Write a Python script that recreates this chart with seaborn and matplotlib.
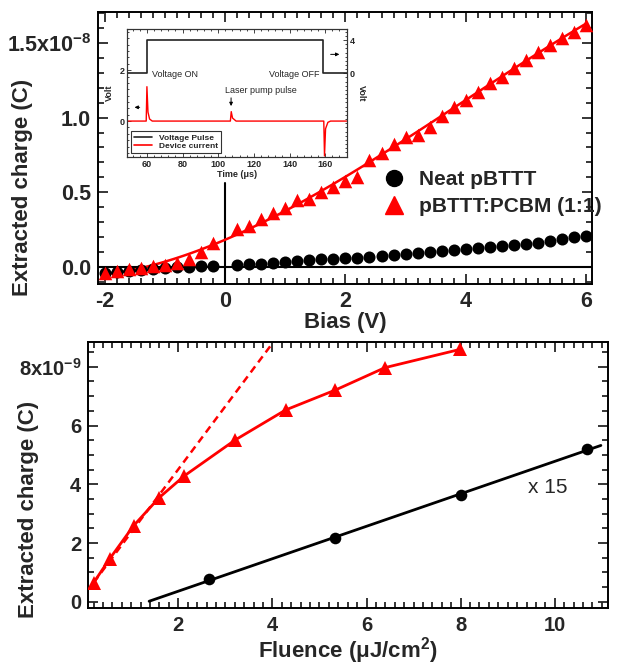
import numpy as np
import pandas as pd
import matplotlib
matplotlib.use("Agg")
import matplotlib.pyplot as plt
import seaborn as sns
from matplotlib.ticker import MultipleLocator, FixedLocator, FixedFormatter
from matplotlib.lines import Line2D

# ---------------- data: top panel (charge in units of 1e-8 C) ----------------
bias = [-2.0, -1.8, -1.6, -1.4, -1.2, -1.0, -0.8, -0.6, -0.4, -0.2,
        0.2, 0.4, 0.6, 0.8, 1.0, 1.2, 1.4, 1.6, 1.8, 2.0,
        2.2, 2.4, 2.6, 2.8, 3.0, 3.2, 3.4, 3.6, 3.8, 4.0,
        4.2, 4.4, 4.6, 4.8, 5.0, 5.2, 5.4, 5.6, 5.8, 6.0]
neat_charge = [-0.045, -0.038, -0.031, -0.024, -0.017, -0.010, -0.004, 0.000, 0.001, 0.002,
               0.011, 0.016, 0.020, 0.025, 0.030, 0.038, 0.044, 0.049, 0.052, 0.056,
               0.060, 0.067, 0.072, 0.076, 0.085, 0.090, 0.096, 0.103, 0.111, 0.116,
               0.123, 0.130, 0.140, 0.145, 0.152, 0.161, 0.173, 0.183, 0.196, 0.205]
blend_charge = [-0.045, -0.030, -0.016, -0.006, 0.004, 0.012, 0.025, 0.050, 0.095, 0.157,
                0.250, 0.273, 0.318, 0.358, 0.392, 0.447, 0.454, 0.503, 0.537, 0.577,
                0.600, 0.716, 0.760, 0.823, 0.868, 0.884, 0.935, 1.010, 1.070, 1.120,
                1.175, 1.230, 1.275, 1.330, 1.387, 1.443, 1.488, 1.532, 1.577, 1.622]
top_yticks = [0.0, 0.5, 1.0, 1.5]
top_yticklabels = ["0.0", "0.5", "1.0", r"1.5x10$^{\mathbf{-8}}$"]
legend_labels = ["Neat pBTTT", "pBTTT:PCBM (1:1)"]

# ---------------- data: inset ----------------
pulse_time = [49, 60, 60, 158.5, 158.5, 172]
pulse_volt = [0, 0, 4, 4, 0, 0]
current_time = [49, 59.6, 60.0, 60.6, 61.5, 63, 106.8, 107.3, 108.0, 110,
                159.2, 159.6, 160.2, 161.5, 163, 172]
current_val = [0, 0, 1.35, 0.35, 0.08, 0, 0, 0.37, 0.12, 0,
               0, -1.37, -0.30, -0.05, 0, 0]
inset_legend = ["Voltage Pulse", "Device current"]
inset_right_ticks = [0, 4]

# ---------------- data: bottom panel (charge in units of 1e-9 C) ----------------
fluence_blend = [0.20, 0.54, 1.05, 1.59, 2.13, 3.21, 4.28, 5.34, 6.39, 7.98]
charge_blend = [0.65, 1.46, 2.59, 3.54, 4.29, 5.51, 6.53, 7.21, 7.97, 8.59]
fluence_neat = [2.65, 5.34, 8.00, 10.68]
charge_neat_x15 = [0.76, 2.16, 3.65, 5.19]
linear_fit_fluence = [0.20, 4.00]
linear_fit_charge = [0.65, 8.80]
neat_fit_range = [1.38, 10.98]
bot_yticks = [0, 2, 4, 6, 8]
bot_yticklabels = ["0", "2", "4", "6", r"8x10$^{\mathbf{-9}}$"]

RED = "#ff0000"

sns.set_style("ticks")
plt.rcParams["font.family"] = ["Liberation Sans", "DejaVu Sans"]
plt.rcParams["font.weight"] = "bold"
plt.rcParams["mathtext.fontset"] = "custom"
plt.rcParams["mathtext.rm"] = "Liberation Sans"
plt.rcParams["mathtext.bf"] = "Liberation Sans:bold"
plt.rcParams["axes.linewidth"] = 1.4
plt.rcParams["axes.unicode_minus"] = False

fig = plt.figure(figsize=(6.21, 6.68), dpi=100)
ax1 = fig.add_axes([0.158, 0.575, 0.796, 0.407])
ax2 = fig.add_axes([0.142, 0.0903, 0.837, 0.398])


def style(ax, fs, xpad):
    ax.tick_params(which="both", direction="in", top=True, right=True, width=1.3,
                   labelsize=fs)
    ax.tick_params(axis="y", pad=5)
    ax.tick_params(axis="x", pad=xpad)
    ax.tick_params(which="major", length=7)
    ax.tick_params(which="minor", length=4)
    for s in ax.spines.values():
        s.set_linewidth(1.4)
        s.set_color("black")
    for lab in ax.get_xticklabels() + ax.get_yticklabels():
        lab.set_fontweight("bold")


# ---------------- top panel ----------------
top = pd.DataFrame({"bias": bias, "neat": neat_charge, "blend": blend_charge})
ax1.axhline(0, color="black", lw=1.5, zorder=1)
ax1.axvline(0, ymin=0, ymax=0.372, color="black", lw=1.5, zorder=1)
sns.regplot(data=top, x="bias", y="blend", order=3, ci=None, scatter=False,
            color=RED, line_kws={"lw": 1.8, "zorder": 2}, ax=ax1)
sns.lineplot(data=top[top["bias"] <= -0.6], x="bias", y="neat", color="black",
             lw=1.8, estimator=None, ax=ax1, zorder=2)
sns.scatterplot(data=top, x="bias", y="neat", marker="o", s=75, color="black",
                edgecolor="black", linewidth=0, ax=ax1, zorder=3)
sns.scatterplot(data=top, x="bias", y="blend", marker="^", s=95, color=RED,
                edgecolor=RED, linewidth=0, ax=ax1, zorder=4)
ax1.set_xlim(-2.116, 6.11)
ax1.set_ylim(-0.116, 1.709)
ax1.xaxis.set_major_locator(MultipleLocator(2))
ax1.xaxis.set_minor_locator(MultipleLocator(0.2))
ax1.yaxis.set_major_locator(FixedLocator(top_yticks))
ax1.yaxis.set_major_formatter(FixedFormatter(top_yticklabels))
ax1.yaxis.set_minor_locator(MultipleLocator(0.1))
style(ax1, 15.5, 5)
ax1.set_xlabel("Bias (V)", fontsize=16, fontweight="bold", labelpad=0)
ax1.set_ylabel("Extracted charge (C)", fontsize=16, fontweight="bold")
ax1.yaxis.set_label_coords(-0.131, 0.353)

handles = [Line2D([], [], ls="none", marker="o", color="black", markersize=11.5),
           Line2D([], [], ls="none", marker="^", color=RED, markersize=13)]
leg = ax1.legend(handles, legend_labels, loc="upper left", bbox_to_anchor=(0.557, 0.45),
                 frameon=False, prop={"size": 15, "weight": "bold"},
                 handletextpad=0.6, labelspacing=0.4, handlelength=1.2, borderaxespad=0)

# ---------------- inset ----------------
ins = fig.add_axes([0.205, 0.765, 0.354, 0.191])
ins2 = ins.twinx()
ins.set_zorder(5)
ins2.set_zorder(6)
sns.lineplot(x=current_time, y=current_val, color=RED, lw=1.0, estimator=None,
             sort=False, ax=ins)
sns.lineplot(x=pulse_time, y=pulse_volt, color="#222222", lw=1.2, estimator=None,
             sort=False, ax=ins2)
ins.set_xlim(49, 172.3)
ins.set_ylim(-1.41, 3.6)
ins2.set_ylim(-10.05, 5.28)
ins.xaxis.set_major_locator(MultipleLocator(20))
ins.xaxis.set_minor_locator(MultipleLocator(4))
ins.yaxis.set_major_locator(MultipleLocator(2))
ins.yaxis.set_minor_locator(MultipleLocator(0.25))
ins2.yaxis.set_major_locator(FixedLocator(inset_right_ticks))
ins2.yaxis.set_minor_locator(MultipleLocator(0.5))
for a in (ins, ins2):
    a.tick_params(which="both", direction="in", labelsize=6.5, pad=2, width=0.6)
    a.tick_params(which="major", length=3)
    a.tick_params(which="minor", length=1.5)
    for s in a.spines.values():
        s.set_linewidth(0.8)
        s.set_color("#333333")
ins.tick_params(which="both", top=True)
ins.set_xlabel("Time (\u03bcs)", fontsize=6.5, fontweight="bold", labelpad=1)
ins.set_ylabel("Volt", fontsize=6.5, fontweight="bold", labelpad=4)
ins2.set_ylabel("Volt", fontsize=6.5, fontweight="bold", rotation=270, labelpad=8)
for lab in ins.get_xticklabels() + ins.get_yticklabels() + ins2.get_yticklabels():
    lab.set_fontweight("bold")
ins.text(62.8, 1.84, "Voltage ON", fontsize=6.5, fontweight="normal", va="center")
ins.text(157, 1.84, "Voltage OFF", fontsize=6.5, fontweight="normal", va="center", ha="right")
ins.text(104, 1.22, "Laser pump pulse", fontsize=6.5, fontweight="normal", va="center")
ins.annotate("", xy=(107.2, 0.48), xytext=(107.2, 1.02),
             arrowprops=dict(arrowstyle="-|>", color="black", lw=0.7, mutation_scale=5))
ins.annotate("", xy=(51.5, 0.54), xytext=(57.5, 0.54),
             arrowprops=dict(arrowstyle="-|>", color="black", lw=0.7, mutation_scale=5))
ins2.annotate("", xy=(169.5, 2.28), xytext=(161.5, 2.28),
              arrowprops=dict(arrowstyle="-|>", color="black", lw=0.7, mutation_scale=5))
ih = [Line2D([], [], color="#222222", lw=1.2), Line2D([], [], color=RED, lw=1.2)]
il = ins2.legend(ih, inset_legend, loc="lower left", fontsize=6, frameon=True,
                 fancybox=False, edgecolor="black", borderpad=0.3, handlelength=2.2,
                 labelspacing=0.1, borderaxespad=0.5)
il.get_frame().set_linewidth(0.8)
for t in il.get_texts():
    t.set_fontweight("bold")

# ---------------- bottom panel ----------------
blend_df = pd.DataFrame({"fluence": fluence_blend, "charge": charge_blend})
neat_df = pd.DataFrame({"fluence": fluence_neat, "charge": charge_neat_x15})
coef = np.polyfit(fluence_neat, charge_neat_x15, 1)
neat_fit_df = pd.DataFrame({"fluence": neat_fit_range,
                            "charge": np.polyval(coef, neat_fit_range)})
lin_df = pd.DataFrame({"fluence": linear_fit_fluence, "charge": linear_fit_charge})

sns.lineplot(data=lin_df, x="fluence", y="charge", color=RED, lw=1.8,
             linestyle=(0, (3, 2)), estimator=None, ax=ax2, zorder=1)
sns.lineplot(data=blend_df, x="fluence", y="charge", color=RED, lw=2,
             marker="^", markersize=10.5, markeredgewidth=0, estimator=None,
             ax=ax2, zorder=3)
sns.lineplot(data=neat_fit_df, x="fluence", y="charge", color="black", lw=2,
             estimator=None, ax=ax2, zorder=2)
sns.scatterplot(data=neat_df, x="fluence", y="charge", marker="o", s=70,
                color="black", linewidth=0, ax=ax2, zorder=3)
ax2.text(9.84, 3.88, "x 15", fontsize=15, fontweight="normal", ha="center", va="center")
ax2.set_xlim(0.085, 11.13)
ax2.set_ylim(-0.2, 8.85)
ax2.xaxis.set_major_locator(MultipleLocator(2))
ax2.xaxis.set_minor_locator(MultipleLocator(0.2))
ax2.yaxis.set_major_locator(FixedLocator(bot_yticks))
ax2.yaxis.set_major_formatter(FixedFormatter(bot_yticklabels))
ax2.yaxis.set_minor_locator(MultipleLocator(0.5))
style(ax2, 14.5, 6)
ax2.set_xlabel("Fluence (\u03bcJ/cm$^{\\mathbf{2}}$)", fontsize=16, fontweight="bold",
               labelpad=0)
ax2.set_ylabel("Extracted charge (C)", fontsize=16, fontweight="bold")
ax2.yaxis.set_label_coords(-0.094, 0.371)

fig.savefig("out.png", dpi=100, facecolor="white")
